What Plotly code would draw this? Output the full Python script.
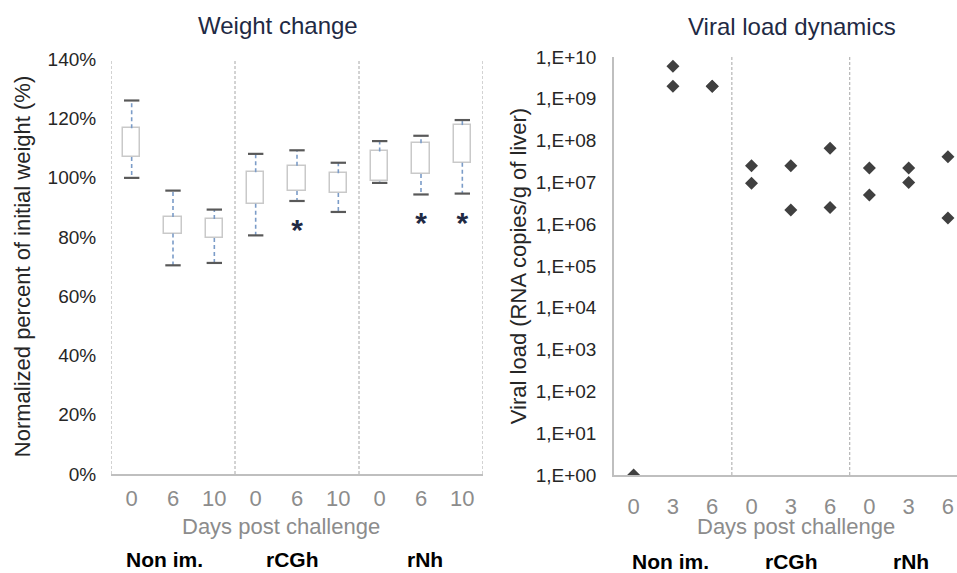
import plotly.graph_objects as go

# ---------------- data ----------------
groups = ["Non im.", "rCGh", "rNh"]
weight_days = ["0", "6", "10", "0", "6", "10", "0", "6", "10"]
weight_whisker_low = [99.9, 70.4, 71.2, 80.5, 92.1, 88.4, 98.2, 94.3, 94.6]
weight_q1 = [106.9, 81.1, 79.6, 91.2, 95.5, 94.8, 98.7, 101.2, 105.0]
weight_q3 = [116.6, 86.7, 86.0, 101.8, 104.0, 101.5, 108.8, 111.6, 117.7]
weight_whisker_high = [126.0, 95.6, 89.2, 108.0, 109.2, 105.0, 112.3, 114.1, 119.4]
signif_idx = [4, 7, 8]
signif_y = [83.5, 86.1, 86.0]

viral_days = ["0", "3", "6", "0", "3", "6", "0", "3", "6"]
viral_idx = [0, 1, 1, 2, 2, 3, 3, 4, 4, 5, 5, 6, 6, 7, 7, 8, 8]
viral_load = [1, 6.0e9, 2.0e9, 2.0e9, 2.0e9, 2.5e7, 9.5e6, 2.5e7, 2.2e6,
              6.6e7, 2.5e6, 2.2e7, 5.0e6, 2.2e7, 1.0e7, 4.1e7, 1.4e6]
viral_tickvals = [10 ** k for k in range(11)]
viral_ticktext = ["1,E+%02d" % k for k in range(11)]

# ---------------- figure ----------------
W, H = 957, 573
FONT = "Liberation Sans, Arial, sans-serif"
NAVY = "#1f2a44"
GRID = "#a6a6a6"

def px_x(p):
    return p / W

def px_y(p):
    return 1 - p / H

fig = go.Figure()
pos = list(range(len(weight_days)))

# boxes as floating bars
fig.add_trace(go.Bar(
    x=pos, y=[b - a for a, b in zip(weight_q1, weight_q3)], base=weight_q1,
    width=0.42, marker=dict(color="white", line=dict(color="#c9c9c9", width=1.5)),
    xaxis="x", yaxis="y", hoverinfo="skip", showlegend=False))

# whiskers (dashed)
wx, wy = [], []
for i in pos:
    wx += [i, i, None, i, i, None]
    wy += [weight_q3[i], weight_whisker_high[i], None, weight_q1[i], weight_whisker_low[i], None]
fig.add_trace(go.Scatter(x=wx, y=wy, mode="lines",
                         line=dict(color="#7b9cc8", width=1.6, dash="4px,3px"),
                         xaxis="x", yaxis="y", showlegend=False, hoverinfo="skip"))
# whisker caps
fig.add_trace(go.Scatter(x=pos + pos, y=weight_whisker_high + weight_whisker_low, mode="markers",
                         marker=dict(symbol="line-ew", size=11, line=dict(color="#595959", width=2.2)),
                         xaxis="x", yaxis="y", showlegend=False, hoverinfo="skip"))
# significance asterisks
fig.add_trace(go.Scatter(x=signif_idx, y=[v - 2.1 for v in signif_y], mode="text", text=["*"] * len(signif_idx),
                         textfont=dict(size=30, color=NAVY, family=FONT, weight="bold"),
                         textposition="middle center", xaxis="x", yaxis="y",
                         showlegend=False, hoverinfo="skip", cliponaxis=False))

# viral load points
fig.add_trace(go.Scatter(x=viral_idx, y=viral_load, mode="markers",
                         marker=dict(symbol="diamond", size=10, color="#404040"),
                         xaxis="x2", yaxis="y2", showlegend=False, cliponaxis=True))

# separators (dashed)
shapes = []
for xv in [-0.5, 2.5, 5.5, 8.5]:
    shapes.append(dict(type="line", xref="x", yref="y", x0=xv, x1=xv, y0=0, y1=140,
                       line=dict(color=GRID, width=1, dash="3px,2px"), layer="below"))
for xv in [2.5, 5.5]:
    shapes.append(dict(type="line", xref="x2", yref="y2 domain", x0=xv, x1=xv, y0=0, y1=1,
                       line=dict(color=GRID, width=1, dash="3px,2px"), layer="below"))

tickfont_y = dict(size=19, color="#262626", family=FONT)
tickfont_x = dict(size=22, color="#8c8c8c", family=FONT)

fig.update_layout(
    width=W, height=H, margin=dict(l=0, r=0, t=0, b=0, autoexpand=False),
    paper_bgcolor="white", plot_bgcolor="white",
    font=dict(family=FONT), bargap=0, showlegend=False,
    shapes=shapes,
    xaxis=dict(domain=[px_x(111), px_x(483)], range=[-0.5, 8.5], tickmode="array",
               tickvals=pos, ticktext=weight_days, tickfont=tickfont_x, automargin=False,
               showgrid=False, zeroline=False, showline=True, linecolor="#bfbfbf", linewidth=1.5,
               ticks="outside", ticklen=4, tickcolor="rgba(0,0,0,0)", fixedrange=True),
    yaxis=dict(domain=[px_y(474), px_y(59)], range=[0, 140], tickmode="array",
               tickvals=[0, 20, 40, 60, 80, 100, 120, 140],
               ticktext=["0%", "20%", "40%", "60%", "80%", "100%", "120%", "140%"],
               tickfont=tickfont_y, showgrid=False, zeroline=False, showline=False, automargin=False,
               ticks="outside", ticklen=10, tickcolor="rgba(0,0,0,0)",
               title=dict(text="Normalized percent of initial weight (%)",
                          font=dict(size=22, color="#262626", family=FONT), standoff=10)),
    xaxis2=dict(domain=[px_x(614), 1.0], range=[-0.5, 8.23], tickmode="array",
                tickvals=pos, ticktext=viral_days, tickfont=tickfont_x, automargin=False,
                showgrid=False, zeroline=False, showline=True, linecolor="#bfbfbf", linewidth=1.5,
                ticks="outside", ticklen=11, tickcolor="rgba(0,0,0,0)", anchor="y2"),
    yaxis2=dict(domain=[px_y(475), px_y(57)], type="log", range=[0, 10], tickmode="array",
                tickvals=viral_tickvals, ticktext=viral_ticktext, tickfont=tickfont_y, automargin=False,
                showgrid=False, zeroline=False, showline=True, linecolor="#bfbfbf", linewidth=1.5,
                ticks="outside", ticklen=12, tickcolor="rgba(0,0,0,0)", anchor="x2",
                title=dict(text="Viral load (RNA copies/g of liver)",
                           font=dict(size=22, color="#262626", family=FONT), standoff=3)),
)

ann = []
def add(text, xp, yp, size, color):
    ann.append(dict(text=text, x=px_x(xp), y=px_y(yp), xref="paper", yref="paper",
                    xanchor="center", yanchor="middle", showarrow=False,
                    font=dict(size=size, color=color, family=FONT)))

add("Weight change", 278, 25, 24, NAVY)
add("Viral load dynamics", 792, 26, 24, NAVY)
add("Days post challenge", 281, 526, 22, "#8c8c8c")
add("Days post challenge", 796, 526, 22, "#8c8c8c")
for g, xp in zip(groups, [164, 292, 425]):
    add("<b>%s</b>" % g, xp, 559, 21, "black")
for g, xp in zip(groups, [670, 791, 911]):
    add("<b>%s</b>" % g, xp, 561, 21, "black")
fig.update_layout(annotations=ann)

fig.write_html("out.html")
